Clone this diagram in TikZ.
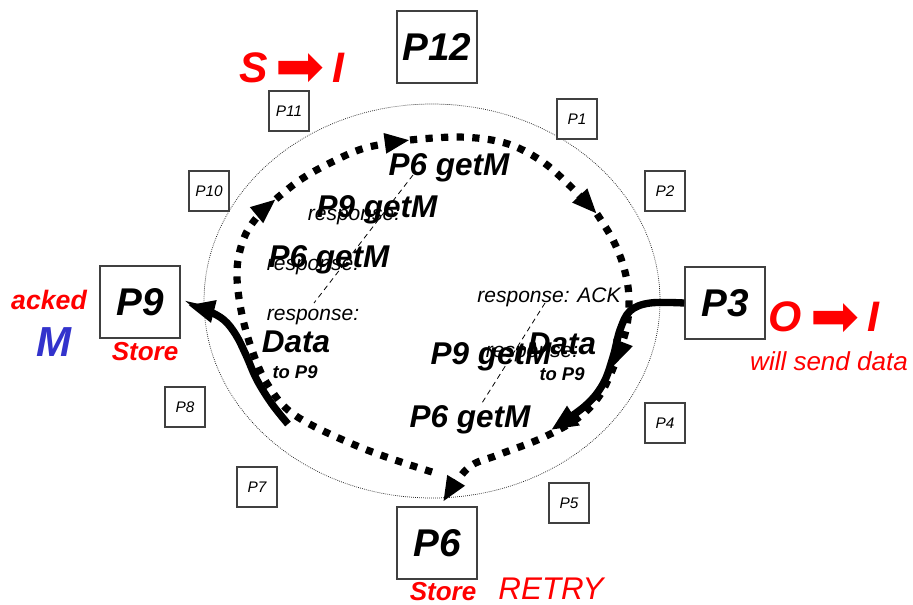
\documentclass[tikz,border=0pt]{standalone}
\usepackage{fontspec}
\setmainfont{Liberation Sans}
\newfontfamily\heavyarrowfont{DejaVu Sans}
\usetikzlibrary{arrows.meta}

\definecolor{mblue}{RGB}{51,51,204}
\newcommand{\stateArrow}{\raisebox{-3.5pt}{\heavyarrowfont\mdseries\upshape\fontsize{44}{44}\selectfont ➡}}

\begin{document}
\begin{tikzpicture}[x=0.75pt,y=-0.75pt,
  bigbox/.style={draw=black!75,fill=white,line width=1.1pt,minimum width=60pt,minimum height=54pt,inner sep=0pt,
    font=\fontsize{29}{30}\selectfont\bfseries\itshape},
  smallbox/.style={draw=black!75,fill=white,line width=0.9pt,minimum width=30pt,minimum height=30pt,inner sep=0pt,
    font=\fontsize{11.5}{12}\selectfont\itshape},
  msg/.style={inner sep=0pt,anchor=base,font=\fontsize{23.6}{24}\selectfont\bfseries\itshape},
  resp/.style={inner sep=0pt,anchor=base,font=\fontsize{15.75}{16}\selectfont\itshape},
  dest/.style={inner sep=0pt,anchor=base,font=\fontsize{13.8}{14}\selectfont\bfseries\itshape},
  state/.style={inner sep=0pt,anchor=base,text=red,font=\fontsize{32}{33}\selectfont\bfseries\itshape},
  note/.style={inner sep=0pt,anchor=base,text=red,font=\fontsize{19.5}{20}\selectfont\bfseries\itshape},
  ring/.style={draw=black!85,line width=0.55pt,dash pattern=on 0.6pt off 0.9pt},
  lead/.style={draw=black,line width=0.6pt,dash pattern=on 4pt off 3pt},
  req/.style={draw=black,line width=5.4pt,dash pattern=on 5.4pt off 6.3pt,
    -{Triangle[length=19pt,width=14pt]}},
  move/.style={draw=black,line width=5.5pt,-{Triangle[length=20pt,width=16pt]}},
]
\useasboundingbox (0,0) rectangle (913,604);

% ring of processors
\draw[ring] (432,301) ellipse [x radius=171pt, y radius=147.75pt];

\node[bigbox] (P12) at (437,47) {P12};
\node[bigbox] (P3) at (725,303) {P3};
\node[bigbox] (P9) at (140,302) {P9};
\node[bigbox] (P6) at (437,543) {P6};
\node[smallbox] (P1) at (577,119) {P1};
\node[smallbox] (P2) at (665,191) {P2};
\node[smallbox] (P4) at (665,423) {P4};
\node[smallbox] (P5) at (569,503) {P5};
\node[smallbox] (P7) at (257,487) {P7};
\node[smallbox] (P8) at (185,407) {P8};
\node[smallbox] (P10) at (209,191) {P10};
\node[smallbox] (P11) at (289,111) {P11};

% waypoints of the request loop
\coordinate (q0) at (432,472);
\coordinate (q1) at (276,199);
\coordinate (q2) at (410,140);
\coordinate (q3) at (597,214);
\coordinate (q4) at (614,366);
\coordinate (q5) at (443,502);

% request travelling round the ring
\draw[req] plot[smooth,tension=0.6] coordinates {(q0) (362,448) (296,416) (268,385) (252,350) (241,310) (237,270) (244,238) (258,216) (q1)};
\draw[req] plot[smooth,tension=0.6] coordinates {(q1) (300,180) (330,163) (365,148) (q2)};
\draw[req] plot[smooth,tension=0.6] coordinates {(q2) (460,137) (505,143) (540,160) (567,183) (q3)};
\draw[req] plot[smooth,tension=0.6] coordinates {(q3) (613,240) (624,268) (629,298) (626,330) (q4)};
\draw[req] plot[smooth,tension=0.6] coordinates {(q4) (600,395) (578,418) (542,438) (498,455) (468,468) (q5)};

% data transfers
\coordinate (a0) at (288,424);
\coordinate (p9in) at (188,305);
\coordinate (a1) at (551,430);
\draw[move] plot[smooth,tension=0.6] coordinates {(a0) (272,404) (257,380) (246,355) (236,335) (224,320) (208,311) (p9in)};
\draw[move] plot[smooth,tension=0.6] coordinates {(P3.west) (650,303) (630,311) (620,330) (613,357) (603,384) (585,406) (a1)};

% leader lines
\coordinate (l1a) at (413,175);
\coordinate (l1b) at (314,303);
\coordinate (l2a) at (545,303);
\coordinate (l2b) at (482,403);
\draw[lead] (l1a) -- (l1b);
\draw[lead] (l2a) -- (l2b);

% messages
\node[msg] (g1) at (449,175.5) {P6 getM};
\node[msg] (g2) at (377,217.5) {P9 getM};
\node[resp] (r1) at (354,220.5) {response:};
\node[msg] (g3) at (329,267.5) {P6 getM};
\node[resp] (r2) at (313,270) {response:};
\node[resp] (r3) at (313,320) {response:};
\node[msg] (d1) at (296,352.5) {Data};
\node[dest] (t1) at (295,378) {to P9};
\node[resp] (r4) at (549,302) {response: ACK};
\node[msg] (g4) at (491,364) {P9 getM};
\node[resp] (r5) at (532,357) {response:};
\node[msg] (d2) at (562,354.5) {Data};
\node[dest] (t2) at (562,380) {to P9};
\node[msg] (g5) at (470,427.5) {P6 getM};

% state changes
\node[state] (si) at (292,82) {S\hspace{6pt}\stateArrow\hspace{6pt}I};
\node[state] (oi) at (824,331.7) {O\hspace{6pt}\stateArrow\hspace{6pt}I};
\node[inner sep=0pt,anchor=base,text=red,font=\fontsize{19.5}{20}\selectfont\itshape] (wsd) at (829,370) {will send data};
\node[note,font=\fontsize{20}{21}\selectfont\bfseries\itshape] (ack) at (49,309) {acked};
\node[inner sep=0pt,anchor=base,text=mblue,font=\fontsize{31.5}{32}\selectfont\bfseries\itshape] (mst) at (54,356.7) {M};
\node[note] (st9) at (145,360) {Store};
\node[note] (st6) at (443,600) {Store};
\node[inner sep=0pt,anchor=base,text=red,font=\fontsize{23.5}{24}\selectfont\itshape] (rty) at (551,599) {RETRY};
\end{tikzpicture}
\end{document}
